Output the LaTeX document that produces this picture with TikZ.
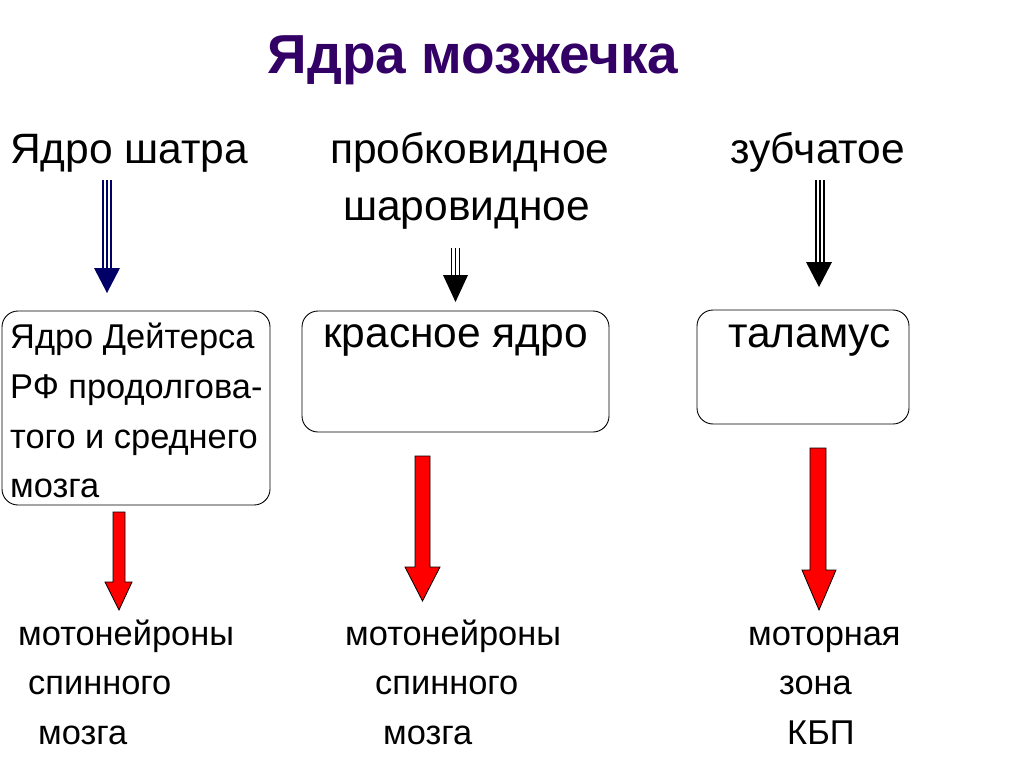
\documentclass[tikz,border=0pt]{standalone}
\usepackage{fontspec}
\setmainfont{Liberation Sans}
\definecolor{titlecol}{RGB}{51,0,102}
\definecolor{navy}{RGB}{0,0,102}
\begin{document}
\begin{tikzpicture}[x=1pt,y=-1pt,
  txt/.style={anchor=base west,inner sep=0pt,font=\fontsize{34.4}{40}\selectfont},
  head/.style={anchor=base west,inner sep=0pt,font=\fontsize{42.5}{48}\selectfont},
  box/.style={draw,rounded corners=16pt,line width=0.9pt},
  red arrow/.style={fill=red,draw=black,line width=0.8pt},
  tri/.style={line width=1.6pt}]
\useasboundingbox (0,0) rectangle (1024,767);
\fill[white] (0,0) rectangle (1024,767);
% title
\node[anchor=base,inner sep=0pt,font=\fontsize{55}{62}\selectfont\bfseries,text=titlecol] (title) at (473,74) {Ядра мозжечка};
% headers
\node[head] (h1) at (10,164) {Ядро шатра};
\node[head] (h2) at (330,164) {пробковидное};
\node[head] (h2b) at (343,221) {шаровидное};
\node[head] (h3) at (730,164) {зубчатое};
% boxes
\draw[box] (2,311) rectangle (270,505);
\draw[box] (302,311) rectangle (609,432);
\draw[box] (697,310) rectangle (909,424);
\node[txt] (b1a) at (10,348) {Ядро Дейтерса};
\node[txt] (b1b) at (10,398) {РФ продолгова-};
\node[txt] (b1c) at (10,448) {того и среднего};
\node[txt] (b1d) at (10,497) {мозга};
\node[head] (b2) at (323,347) {красное ядро};
\node[head] (b3) at (728,347) {таламус};
% triple arrows
\foreach \dx in {-4,0,4} \draw[tri,navy] (107+\dx,180) -- (107+\dx,270);
\fill[navy] (94,268) -- (120,268) -- (107,293) -- cycle;
\foreach \dx in {-4,0,4} \draw[tri] (455.5+\dx,248) -- (455.5+\dx,277);
\fill (443,275) -- (468,275) -- (455.5,302) -- cycle;
\foreach \dx in {-4,0,4} \draw[tri] (820+\dx,180) -- (820+\dx,264);
\fill (806,262) -- (832,262) -- (819,287) -- cycle;
% red arrows
\draw[red arrow] (113,512) -- (125,512) -- (125,582) -- (132,582) -- (119,610) -- (105,582) -- (113,582) -- cycle;
\draw[red arrow] (415,456) -- (430,456) -- (430,567) -- (440,567) -- (422.5,601) -- (405,567) -- (415,567) -- cycle;
\draw[red arrow] (810,448) -- (826,448) -- (826,570) -- (836,570) -- (819,610) -- (802,570) -- (810,570) -- cycle;
% bottom texts
\node[txt] (m1a) at (18,645) {мотонейроны};
\node[txt] (m1b) at (28,694) {спинного};
\node[txt] (m1c) at (38,744) {мозга};
\node[txt] (m2a) at (345,645) {мотонейроны};
\node[txt] (m2b) at (375,694) {спинного};
\node[txt] (m2c) at (383,744) {мозга};
\node[txt] (m3a) at (748,645) {моторная};
\node[txt] (m3b) at (779,694) {зона};
\node[txt] (m3c) at (787,744) {КБП};
\end{tikzpicture}
\end{document}
